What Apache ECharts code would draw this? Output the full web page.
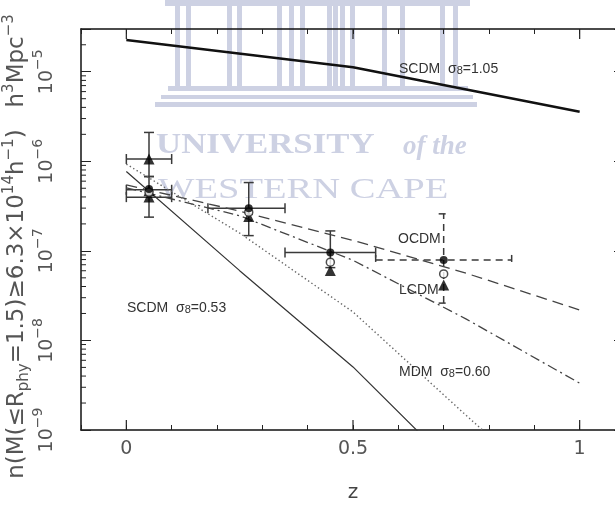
<!DOCTYPE html>
<html>
<head>
<meta charset="utf-8">
<script type="text/javascript" src="https://cdn.jsdelivr.net/npm/echarts@6.0.0/dist/echarts.min.js"></script>
</head>
<body style="margin:0;background:#fff">
<div id="main" style="width:615px;height:505px;"></div>
<script type="text/javascript">

// model curves: number density n(M>=6.3e14) [h^3 Mpc^-3] vs redshift
var zHigh = [0, 0.5, 1];
var scdmHigh = [2.26e-5, 1.12e-5, 3.58e-6];        // SCDM sigma8=1.05
var zModel = [0, 0.25, 0.5, 0.75, 1];
var ocdm = [5.46e-7, 2.78e-7, 1.31e-7, 5.62e-8, 2.19e-8];
var lcdm = [5.06e-7, 2.47e-7, 7.85e-8, 1.73e-8, 3.33e-9];
var zMdm = [0, 0.25, 0.5, 0.75, 0.85];
var mdm = [9.3e-7, 1.58e-7, 2.08e-8, 1.45e-9, 5.1e-10];   // MDM sigma8=0.60
var zLow = [0, 0.25, 0.5, 0.75];
var scdmLow = [7.69e-7, 6.01e-8, 5.06e-9, 2.8e-10];     // SCDM sigma8=0.53

// observed bins
var binZ = [0.05, 0.27, 0.45, 0.7];
var nFilled = [4.9e-7, 3.0e-7, 9.58e-8, 7.92e-8];
var nOpen = [4.5e-7, 2.7e-7, 7.48e-8, 5.53e-8];
var nTri = [4.0e-7, 2.42e-7, 6.03e-8, 4.17e-8];
var extraTriZ = [0.05, 0.05];
var extraTri = [1.06e-6, 4.7e-7];

// error bars (solid ones), the z=0.7 bin is drawn dashed
var vErrZ = [0.05, 0.05, 0.27, 0.45];
var vErrLo = [6.76e-7, 2.38e-7, 1.48e-7, 6.5e-8];
var vErrHi = [2.10e-6, 6.76e-7, 5.79e-7, 1.67e-7];
var hErrN = [1.06e-6, 4.81e-7, 3.98e-7, 3.0e-7, 9.58e-8];
var hErrLo = [0, 0, 0, 0.18, 0.35];
var hErrHi = [0.1, 0.1, 0.1, 0.35, 0.55];
var dErrZ = 0.7, dErrLo = 2.61e-8, dErrHi = 2.59e-7;
var dErrN = 7.92e-8, dErrZlo = 0.55, dErrZhi = 0.85;

var xMin = -0.1, xMax = 1.1;
var yMin = 1e-9, yMax = 3.0e-5;
var majorX = [0, 0.5, 1];

function pairs(xs, ys) {
  var out = [];
  for (var i = 0; i < xs.length; i++) out.push([xs[i], ys[i]]);
  return out;
}

var minorY = [];
for (var e = -9; e <= -5; e++) {
  for (var m = 2; m <= 9; m++) {
    var v = m * Math.pow(10, e);
    if (v < yMax) minorY.push([xMin, v]);
  }
}

var ink = '#3a3a3a';
var chart = echarts.init(document.getElementById('main'));

function vBar(params, api) {
  var a = api.coord([api.value(0), api.value(1)]);
  var b = api.coord([api.value(0), api.value(2)]);
  var st = {stroke: ink, lineWidth: 1.5, lineDash: params.seriesName === 'errDash' ? [7, 5] : null};
  var c = 5;
  return {type: 'group', children: [
    {type: 'line', shape: {x1: a[0], y1: a[1], x2: b[0], y2: b[1]}, style: st},
    {type: 'line', shape: {x1: a[0] - c, y1: a[1], x2: a[0] + c, y2: a[1]}, style: st},
    {type: 'line', shape: {x1: b[0] - c, y1: b[1], x2: b[0] + c, y2: b[1]}, style: st}
  ]};
}
function hBar(params, api) {
  var a = api.coord([api.value(1), api.value(0)]);
  var b = api.coord([api.value(2), api.value(0)]);
  var st = {stroke: ink, lineWidth: 1.5, lineDash: params.seriesName === 'errDashH' ? [7, 5] : null};
  var c = 5;
  return {type: 'group', children: [
    {type: 'line', shape: {x1: a[0], y1: a[1], x2: b[0], y2: b[1]}, style: st},
    {type: 'line', shape: {x1: a[0], y1: a[1] - c, x2: a[0], y2: a[1] + c}, style: st},
    {type: 'line', shape: {x1: b[0], y1: b[1] - c, x2: b[0], y2: b[1] + c}, style: st}
  ]};
}

var wm = '#cdd1e3';
var wmEls = [];
// watermark building
var cols = [175, 186, 227, 237, 277, 289, 327, 340, 300, 333, 350, 382, 400, 440, 453];
cols.forEach(function (x) {
  wmEls.push({type: 'rect', shape: {x: x, y: 0, width: 5, height: 86}, style: {fill: wm}});
});
wmEls.push({type: 'rect', shape: {x: 165, y: 0, width: 305, height: 6}, style: {fill: wm}});
wmEls.push({type: 'rect', shape: {x: 168, y: 86, width: 300, height: 5}, style: {fill: wm}});
wmEls.push({type: 'rect', shape: {x: 161, y: 95, width: 312, height: 4}, style: {fill: wm}});
wmEls.push({type: 'rect', shape: {x: 155, y: 102, width: 322, height: 5}, style: {fill: wm}});
wmEls.push({type: 'text', x: 156, y: 131, scaleX: 1.2, style: {text: 'UNIVERSITY', fill: wm, font: 'bold 29px "Liberation Serif"'}});
wmEls.push({type: 'text', x: 403, y: 134, style: {text: 'of the', fill: wm, font: 'italic bold 27px "Liberation Serif"'}});
wmEls.push({type: 'text', x: 158, y: 176, scaleX: 1.33, style: {text: 'WESTERN CAPE', fill: wm, font: '29px "Liberation Serif"'}});

var labelFont = '"DejaVu Sans", sans-serif';
function annText(x, y, parts) {
  return {type: 'text', x: x, y: y, z: 10, style: {
    text: parts, fill: '#333', verticalAlign: 'middle',
    rich: {t: {fontSize: 14, fill: '#333', fontFamily: 'Liberation Sans'}, s: {fontSize: 11, fill: '#333', fontFamily: 'Liberation Sans', verticalAlign: 'bottom', lineHeight: 10}}
  }};
}

chart.setOption({
  animation: false,
  grid: {left: 81, top: 29, right: -10, bottom: 75, outerBoundsMode: 'none', containLabel: false},
  graphic: wmEls.map(function (g) { g.z = -10; g.silent = true; return g; }).concat([
    annText(399, 69, '{t|SCDM  σ}{s|8}{t|=1.05}'),
    annText(398, 239, '{t|OCDM}'),
    annText(399, 290, '{t|LCDM}'),
    annText(127, 308, '{t|SCDM  σ}{s|8}{t|=0.53}'),
    annText(399, 372, '{t|MDM  σ}{s|8}{t|=0.60}')
  ]),
  xAxis: [{
    type: 'value', min: xMin, max: xMax, interval: 0.1,
    name: 'z', nameLocation: 'middle', nameGap: 53, nameMoveOverlap: false,
    nameTextStyle: {fontSize: 20, color: '#444', fontFamily: labelFont},
    axisLine: {onZero: false, lineStyle: {color: '#111', width: 1.5}},
    axisTick: {inside: true, length: 5, lineStyle: {color: '#222', width: 1}},
    axisLabel: {
      margin: 10, fontSize: 19, color: '#555', fontFamily: labelFont,
      formatter: function (v) {
        var r = Math.round(v * 10) / 10;
        if (Math.abs(r * 2 - Math.round(r * 2)) < 1e-6 && r >= 0 && r <= 1) return String(r);
        return '';
      }
    },
    splitLine: {show: false}
  }, {
    type: 'value', position: 'top', min: xMin, max: xMax, interval: 0.1,
    axisLine: {onZero: false, lineStyle: {color: '#111', width: 1.5}},
    axisTick: {inside: true, length: 5, lineStyle: {color: '#222', width: 1}},
    axisLabel: {show: false}, splitLine: {show: false}
  }],
  yAxis: [{
    type: 'log', min: yMin, max: yMax, logBase: 10,
    name: '{t|n(M(≤R}{sub|phy}{t|=1.5)≥6.3×10}{sup|14}{t|h}{sup|−1}{t|)   h}{sup|3}{t|Mpc}{sup|−3}',
    nameLocation: 'middle', nameRotate: 90, nameGap: 49, nameMoveOverlap: false,
    nameTextStyle: {
      color: '#555', padding: [0, 34, 0, 0],
      rich: {
        t: {fontSize: 23, color: '#555', fontFamily: labelFont, lineHeight: 30, verticalAlign: 'middle'},
        sub: {fontSize: 15, color: '#555', fontFamily: labelFont, lineHeight: 14, verticalAlign: 'bottom'},
        sup: {fontSize: 15, color: '#555', fontFamily: labelFont, lineHeight: 14, verticalAlign: 'top'}
      }
    },
    axisLine: {onZero: false, lineStyle: {color: '#111', width: 1.5}},
    axisTick: {inside: true, length: 10, lineStyle: {color: '#222', width: 1}},
    axisLabel: {
      rotate: 90, margin: 24, color: '#555',
      formatter: function (v) {
        var e = Math.log(v) / Math.LN10, r = Math.round(e);
        if (Math.abs(e - r) > 1e-6) return '';
        return '{b|10}{s|' + (r < 0 ? '\u2212' + (-r) : r) + '}';
      },
      rich: {
        b: {fontSize: 19, color: '#555', fontFamily: labelFont, lineHeight: 26, verticalAlign: 'bottom'},
        s: {fontSize: 14, color: '#555', fontFamily: labelFont, lineHeight: 14, verticalAlign: 'top'}
      }
    },
    splitLine: {show: false}
  }, {
    type: 'log', min: yMin, max: yMax, logBase: 10, position: 'right',
    axisLine: {onZero: false, lineStyle: {color: '#111', width: 1.5}},
    axisTick: {inside: true, length: 11, lineStyle: {color: '#222', width: 1}},
    axisLabel: {show: false}, splitLine: {show: false}
  }],
  series: [
    {name: 'SCDM 1.05', type: 'line', data: pairs(zHigh, scdmHigh), symbol: 'none', clip: true,
      lineStyle: {color: '#111', width: 2.6}},
    {name: 'OCDM', type: 'line', data: pairs(zModel, ocdm), symbol: 'none', clip: true,
      lineStyle: {color: '#444', width: 1.3, type: [11, 6]}},
    {name: 'LCDM', type: 'line', data: pairs(zModel, lcdm), symbol: 'none', clip: true,
      lineStyle: {color: '#444', width: 1.3, type: [10, 4, 2, 4]}},
    {name: 'MDM', type: 'line', data: pairs(zMdm, mdm), symbol: 'none', clip: true,
      lineStyle: {color: '#666', width: 1.4, type: [1.4, 2.6]}},
    {name: 'SCDM 0.53', type: 'line', data: pairs(zLow, scdmLow), symbol: 'none', clip: true,
      lineStyle: {color: '#333', width: 1.2}},
    {name: 'err', type: 'custom', renderItem: vBar, encode: {x: 0, y: [1, 2]},
      data: vErrZ.map(function (z, i) { return [z, vErrLo[i], vErrHi[i]]; })},
    {name: 'errH', type: 'custom', renderItem: hBar, encode: {x: [1, 2], y: 0},
      data: hErrN.map(function (n, i) { return [n, hErrLo[i], hErrHi[i]]; })},
    {name: 'errDash', type: 'custom', renderItem: vBar, encode: {x: 0, y: [1, 2]},
      data: [[dErrZ, dErrLo, dErrHi]]},
    {name: 'errDashH', type: 'custom', renderItem: hBar, encode: {x: [1, 2], y: 0},
      data: [[dErrN, dErrZlo, dErrZhi]]},
    {name: 'triangles', type: 'scatter', symbol: 'triangle', symbolSize: 11, z: 5,
      itemStyle: {color: '#000'}, data: pairs(binZ, nTri).concat(pairs(extraTriZ, extraTri))},
    {name: 'open', type: 'scatter', symbol: 'circle', symbolSize: 8, z: 6,
      itemStyle: {color: '#fff', borderColor: '#222', borderWidth: 1.5}, data: pairs(binZ, nOpen)},
    {name: 'filled', type: 'scatter', symbol: 'circle', symbolSize: 8, z: 7,
      itemStyle: {color: '#000'}, data: pairs(binZ, nFilled)},
    {name: 'minorY', type: 'custom', silent: true, data: minorY, encode: {x: 0, y: 1},
      renderItem: function (params, api) {
        var p = api.coord([api.value(0), api.value(1)]);
        return {type: 'line', shape: {x1: p[0], y1: p[1], x2: p[0] + 5, y2: p[1]}, style: {stroke: '#222', lineWidth: 1}};
      }},
    {name: 'majorX', type: 'custom', silent: true, encode: {x: 0, y: 1},
      data: majorX.map(function (z) { return [z, yMin]; }),
      renderItem: function (params, api) {
        var p = api.coord([api.value(0), yMin]);
        var q = api.coord([api.value(0), yMax]);
        var st = {stroke: '#222', lineWidth: 1.2};
        return {type: 'group', children: [
          {type: 'line', shape: {x1: p[0], y1: p[1], x2: p[0], y2: p[1] - 10}, style: st},
          {type: 'line', shape: {x1: q[0], y1: q[1], x2: q[0], y2: q[1] + 10}, style: st}
        ]};
      }}
  ]
});
</script>
</body>
</html>
